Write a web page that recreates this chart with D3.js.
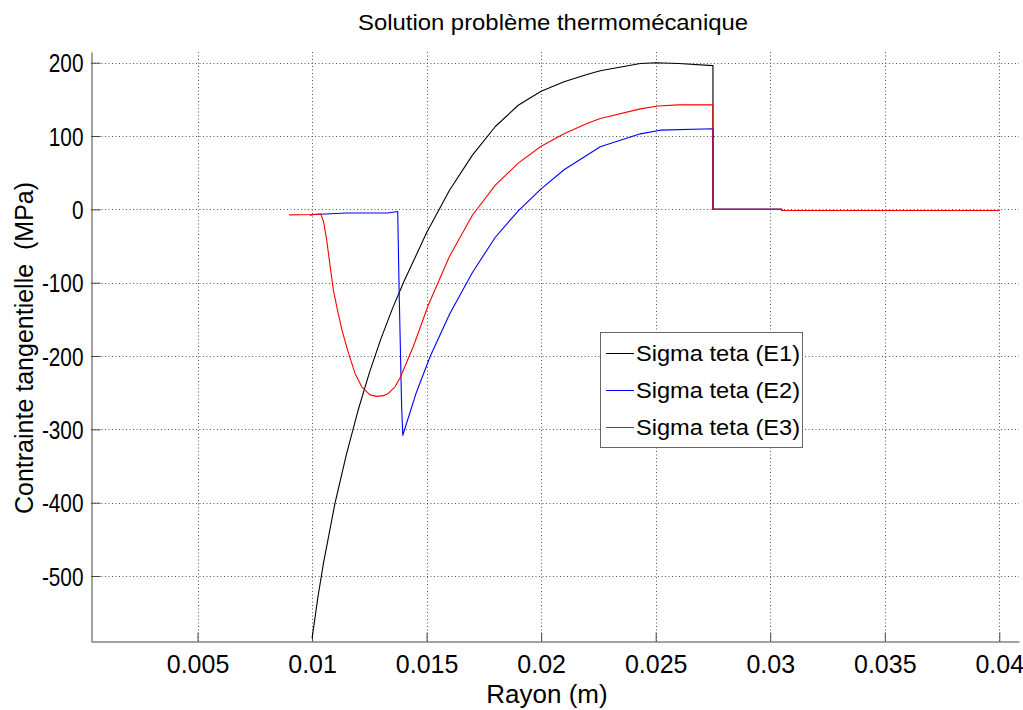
<!DOCTYPE html>
<html><head><meta charset="utf-8">
<script src="https://cdn.jsdelivr.net/npm/d3@7/dist/d3.min.js"></script>
<style>body{margin:0;background:#fff}svg{display:block}text{font-family:"Liberation Sans",Arial,sans-serif;fill:#000}</style>
</head><body>
<script>
const xTicks = [0.005,0.01,0.015,0.02,0.025,0.03,0.035,0.04];
const xTickLabels = ["0.005","0.01","0.015","0.02","0.025","0.03","0.035","0.04"];
const yTicks = [-500,-400,-300,-200,-100,0,100,200];
const yTickLabels = ["-500","-400","-300","-200","-100","0","100","200"];
const seriesNames = ["Sigma teta (E1)","Sigma teta (E2)","Sigma teta (E3)"];
const seriesColors = ["#000000","#0000ff","#ff0000"];

const e1X = [0.0100,0.01025,0.0105,0.0110,0.0115,0.0120,0.0125,0.0130,0.0135,0.0140,0.0150,0.0160,0.0170,0.0180,0.0190,0.0200,0.0210,0.0220,0.02258,0.02433,0.0250,0.0260,0.0275,0.0275,0.0305,0.0305,0.0400];
const e1Y = [-585,-530,-482,-401,-334,-275,-223,-177,-136,-99,-32,26,74,113,142,161,174,184,189,199,200,199,196,0,0,-1.5,-1.5];

const e2X = [0.0099,0.0101,0.0115,0.0133,0.01374,0.01380,0.01391,0.01396,0.01455,0.01515,0.0160,0.0170,0.0180,0.0190,0.0200,0.0210,0.02258,0.02433,0.0252,0.0275,0.0275,0.0305,0.0305,0.0400];
const e2Y = [-8,-7,-5,-5,-3,-110,-269,-308,-250,-201,-143,-86,-38,-2,28,54,85.5,103,108,110,0,0,-1.5,-1.5];

const e3X = [0.0090,0.0100,0.01038,0.0105,0.01064,0.01079,0.01093,0.01108,0.0113,0.01159,0.01188,0.01217,0.01253,0.01282,0.01311,0.01333,0.01362,0.01384,0.01442,0.01508,0.0160,0.0170,0.0180,0.0190,0.0200,0.0210,0.0220,0.02258,0.02433,0.0251,0.0260,0.0275,0.0275,0.0305,0.0305,0.0400];
const e3Y = [-7.5,-7,-6.3,-16.7,-41.7,-78,-110,-133,-164,-196,-224,-242,-253,-255,-254,-251,-242,-230,-187,-130,-64,-8,33,63,86,103,117,124,137,141,142.5,142.5,0,0,-1.5,-1.5];

const W = 1023, H = 710;
const svg = d3.select("body").append("svg").attr("width",W).attr("height",H);

const x = d3.scaleLinear().domain([0.00035,0.04086]).range([91,1019]);
const y = d3.scaleLinear().domain([-588.6,214.6]).range([641,52]);

// grid
const grid = svg.append("g").attr("stroke","#555").attr("stroke-width",1).attr("stroke-dasharray","1,2.5");
grid.selectAll("line.v").data(xTicks).join("line")
  .attr("x1",d=>Math.round(x(d))+0.5).attr("x2",d=>Math.round(x(d))+0.5)
  .attr("y1",y.range()[0]).attr("y2",y.range()[1]);
grid.selectAll("line.h").data(yTicks).join("line")
  .attr("y1",d=>Math.round(y(d))+0.5).attr("y2",d=>Math.round(y(d))+0.5)
  .attr("x1",x.range()[0]).attr("x2",x.range()[1]);

// axes
const xAxis = d3.axisBottom(x).tickValues(xTicks).tickSizeInner(-9).tickSizeOuter(0).tickFormat((d,i)=>xTickLabels[i]);
const yAxis = d3.axisLeft(y).tickValues(yTicks).tickSizeInner(-9).tickSizeOuter(0).tickFormat((d,i)=>yTickLabels[i]);
const gx = svg.append("g").attr("transform","translate(0,641.5)").call(xAxis);
const gy = svg.append("g").attr("transform","translate(91.5,0)").call(yAxis);
[gx,gy].forEach(g=>{
  g.select(".domain").attr("stroke","#444");
  g.selectAll(".tick line").attr("stroke","#444");
  g.selectAll("text").attr("font-family","'Liberation Sans',Arial,sans-serif").attr("fill","#000");
});
gy.selectAll(".tick text").each(function(){
  const t=d3.select(this);
  t.attr("font-size",26).attr("x",null).attr("dy",null)
   .attr("transform","translate(-8,9) scale(0.8,1)");
});
gx.selectAll(".tick text").each(function(){
  const t=d3.select(this);
  t.attr("font-size",25).attr("y",null).attr("dy",null)
   .attr("transform","translate(0,31)");
});

// lines
const line = d3.line().x(d=>x(d[0])).y(d=>y(d[1]));
const seriesData = [d3.zip(e1X,e1Y), d3.zip(e2X,e2Y), d3.zip(e3X,e3Y)];
seriesData.forEach((s,i)=>{
  svg.append("path").datum(s).attr("d",line).attr("fill","none")
    .attr("stroke",seriesColors[i]).attr("stroke-width",1.1).attr("stroke-linejoin","round");
});

// title and labels
svg.append("text").attr("x",553).attr("y",30).attr("text-anchor","middle")
  .attr("font-size",22).attr("textLength",390).attr("lengthAdjust","spacingAndGlyphs")
  .text("Solution problème thermomécanique");
svg.append("text").attr("x",547).attr("y",703).attr("text-anchor","middle")
  .attr("font-size",26).text("Rayon (m)");
svg.append("text").attr("transform","translate(33,348) rotate(-90)").attr("text-anchor","middle")
  .attr("font-size",25).attr("xml:space","preserve").text("Contrainte tangentielle  (MPa)");

// legend
const lg = svg.append("g");
lg.append("rect").attr("x",600.5).attr("y",332.5).attr("width",202).attr("height",115)
  .attr("fill","#fff").attr("stroke","#666");
const rows = [353,390,427];
seriesNames.forEach((n,i)=>{
  lg.append("line").attr("x1",606).attr("x2",634).attr("y1",rows[i]+0.5).attr("y2",rows[i]+0.5)
    .attr("stroke",seriesColors[i]).attr("stroke-width",1);
  lg.append("text").attr("x",636).attr("y",rows[i]+8).attr("font-size",22)
    .attr("textLength",164).attr("lengthAdjust","spacingAndGlyphs").text(n);
});
</script>
</body></html>
